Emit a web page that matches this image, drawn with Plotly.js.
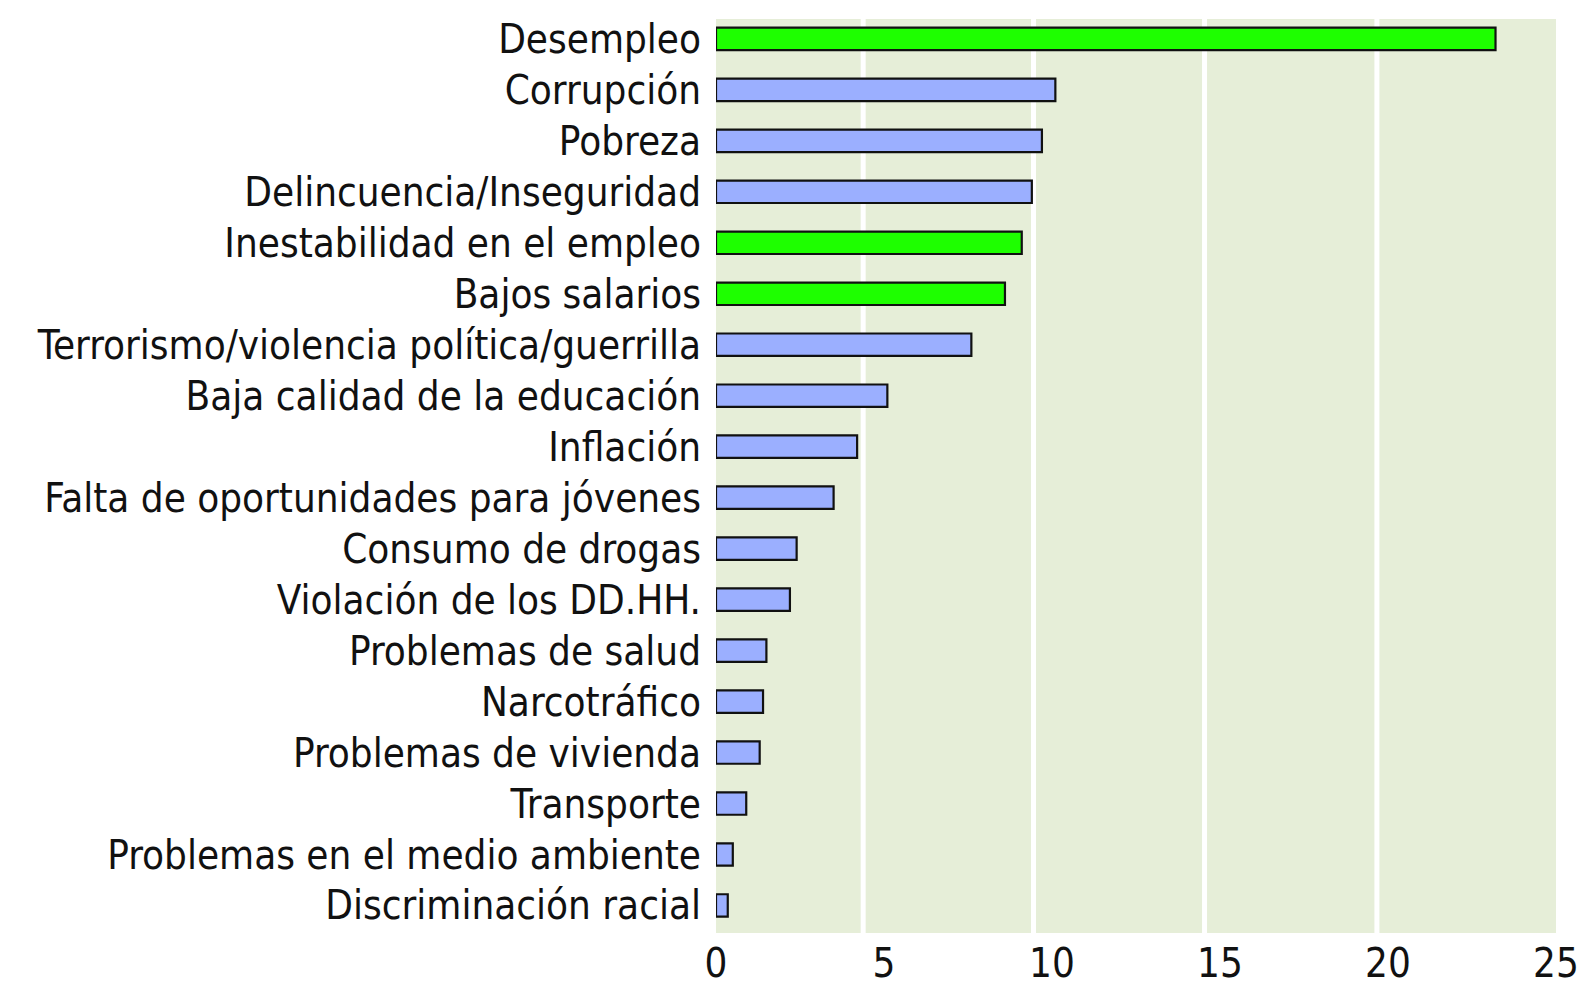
<!DOCTYPE html>
<html>
<head>
<meta charset="utf-8">
<script src="https://cdn.plot.ly/plotly-3.0.1.min.js"></script>
<style>html,body{margin:0;padding:0;background:#fff;}#chart{width:1582px;height:985px;}</style>
</head>
<body>
<div id="chart"></div>
<script>
// Categories, top to bottom
var categories = [
  "Desempleo",
  "Corrupción",
  "Pobreza",
  "Delincuencia/Inseguridad",
  "Inestabilidad en el empleo",
  "Bajos salarios",
  "Terrorismo/violencia política/guerrilla",
  "Baja calidad de la educación",
  "Inflación",
  "Falta de oportunidades para jóvenes",
  "Consumo de drogas",
  "Violación de los DD.HH.",
  "Problemas de salud",
  "Narcotráfico",
  "Problemas de vivienda",
  "Transporte",
  "Problemas en el medio ambiente",
  "Discriminación racial"
];
// Percentages
var values = [23.2, 10.1, 9.7, 9.4, 9.1, 8.6, 7.6, 5.1, 4.2, 3.5, 2.4, 2.2, 1.5, 1.4, 1.3, 0.9, 0.5, 0.35];
// Employment-related problems are highlighted
var group = ["empleo","otro","otro","otro","empleo","empleo","otro","otro","otro","otro","otro","otro","otro","otro","otro","otro","otro","otro"];
// Axis tick labels
var xTickValues = [0, 5, 10, 15, 20, 25];
var xTickLabels = ["0", "5", "10", "15", "20", "25"];
// Positions of the white guide lines as drawn in the original
var gridValues = [4.38, 9.45, 14.54, 19.67];

var groupColors = {empleo: "#1EFF00", otro: "#9BAFFF"};
var barColors = group.map(function(g){ return groupColors[g]; });

var font = "'DejaVu Sans Condensed', 'Liberation Sans Narrow', sans-serif";

var traces = [{
  type: "bar",
  orientation: "h",
  y: categories,
  x: values,
  width: 0.44,
  marker: {color: barColors, line: {color: "#111", width: 2.2}},
  hoverinfo: "y+x",
  showlegend: false
}];

var gridShapes = gridValues.map(function(v){
  return {type: "line", xref: "x", yref: "paper", x0: v, x1: v, y0: 0, y1: 1,
          layer: "below", line: {color: "#ffffff", width: 5}};
});

var layout = {
  width: 1582, height: 985,
  margin: {l: 716, r: 26, t: 19, b: 52, pad: 0},
  paper_bgcolor: "#ffffff",
  plot_bgcolor: "#E6EED8",
  showlegend: false,
  shapes: gridShapes,
  xaxis: {
    range: [0, 25],
    tickmode: "array",
    tickvals: xTickValues,
    ticktext: xTickLabels,
    showgrid: false,
    zeroline: false,
    showline: false,
    ticks: "",
    ticklabelstandoff: 3,
    tickfont: {family: font, size: 40, color: "#111"},
    fixedrange: true
  },
  yaxis: {
    type: "category",
    categoryorder: "array",
    categoryarray: categories,
    tickmode: "array",
    tickvals: categories,
    ticktext: categories,
    range: [17.54, -0.39],
    showgrid: false,
    zeroline: false,
    showline: false,
    ticks: "",
    ticklabelstandoff: 14,
    tickfont: {family: font, size: 40, color: "#111"},
    fixedrange: true
  }
};

Plotly.newPlot("chart", traces, layout, {displayModeBar: false, staticPlot: true});
</script>
</body>
</html>
